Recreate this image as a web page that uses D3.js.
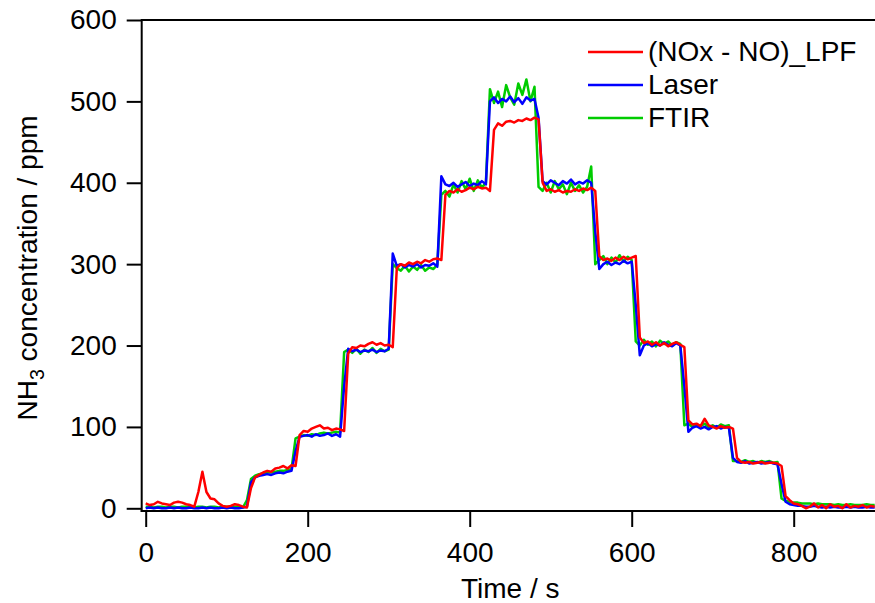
<!DOCTYPE html>
<html><head>
<meta charset="utf-8">
<title>NH3 step test</title>
<script src="https://d3js.org/d3.v7.min.js"></script>
<style>
  body { margin: 0; background: #fff; }
  svg text { font-family: "Liberation Sans", Arial, sans-serif; fill: #000; }
</style>
</head>
<body>
<svg id="chart" width="875" height="603"></svg>

<script>
// time axis, seconds (5 s sampling)
const times = [
  0,5,10,15,20,25,30,35,40,45,50,55,
  60,65,70,75,80,85,90,95,100,105,110,115,
  120,125,130,135,140,145,150,155,160,165,170,175,
  180,185,190,195,200,205,210,215,220,225,230,235,
  240,245,250,255,260,265,270,275,280,285,290,295,
  300,305,310,315,320,325,330,335,340,345,350,355,
  360,365,370,375,380,385,390,395,400,405,410,415,
  420,425,430,435,440,445,450,455,460,465,470,475,
  480,485,490,495,500,505,510,515,520,525,530,535,
  540,545,550,555,560,565,570,575,580,585,590,595,
  600,605,610,615,620,625,630,635,640,645,650,655,
  660,665,670,675,680,685,690,695,700,705,710,715,
  720,725,730,735,740,745,750,755,760,765,770,775,
  780,785,790,795,800,805,810,815,820,825,830,835,
  840,845,850,855,860,865,870,875,880,885,890,895,
  900
];

// (NOx - NO)_LPF, ppm
const noxLpf = [
  6,4,5,8,6,5,4,7,8,7,5,4,
  2,20,45,20,12,11,6,3,2,3,5,4,
  2,1,25,38,41,44,46,45,49,50,52,49,
  53,52,90,95,94,98,100,102,98,99,96,98,
  97,95,190,198,197,200,199,202,204,201,203,200,
  201,198,295,300,298,302,300,303,301,305,303,306,
  307,305,385,390,388,392,389,391,394,392,395,393,
  394,390,465,473,470,475,476,474,477,476,479,477,
  480,478,400,390,392,389,391,388,390,389,392,390,
  393,391,394,390,310,305,307,304,308,305,309,306,
  308,310,210,203,205,201,204,200,203,199,202,204,
  201,198,108,103,104,101,110,102,100,98,101,99,
  100,98,62,57,56,57,55,56,57,55,56,56,
  55,52,15,10,6,5,3,0,2,6,1,4,
  0,5,2,3,0,5,1,3,2,4,1,3,
  2
];

// Laser, ppm
const laser = [
  0,1,0,1,0,0,1,0,1,0,0,1,
  0,0,1,0,1,0,0,1,0,1,0,0,
  1,2,32,38,40,41,42,41,43,44,43,45,
  46,70,88,89,90,88,91,89,90,92,89,91,
  88,150,196,193,195,192,194,193,195,192,194,193,
  196,313,298,300,296,299,297,300,296,299,298,301,
  297,408,398,396,400,395,398,401,396,399,397,402,
  398,500,505,498,503,500,506,499,504,497,505,501,
  503,480,402,398,403,400,397,402,399,404,398,401,
  399,403,400,340,294,300,303,299,302,300,304,301,
  303,250,188,200,203,199,202,200,204,201,199,203,
  200,150,94,99,101,98,100,97,100,101,98,100,
  99,62,57,56,58,55,56,57,55,56,57,55,
  54,30,8,5,4,3,3,2,2,3,2,1,
  2,1,2,1,1,2,1,2,1,1,2,1,
  1
];

// FTIR, ppm
const ftir = [
  2,2,1,2,2,1,2,2,1,2,2,2,
  1,2,2,1,2,2,1,2,2,1,2,2,
  1,10,36,40,42,43,44,44,45,46,46,47,
  48,86,88,90,89,91,90,92,93,92,93,94,
  93,192,195,191,196,190,195,192,197,191,196,193,
  195,300,295,292,298,291,297,293,299,292,296,294,
  299,385,390,383,398,388,402,392,405,390,403,394,
  400,515,498,512,493,520,505,496,522,508,527,500,
  518,395,390,400,388,402,392,398,386,400,390,397,
  388,395,420,300,305,310,300,308,302,311,303,309,
  305,205,200,207,201,205,199,206,202,205,200,204,
  202,102,104,100,103,101,104,100,102,99,103,101,
  102,58,58,57,59,57,58,56,58,57,58,56,
  57,12,9,8,7,7,6,6,6,5,6,5,
  5,5,4,5,4,4,5,4,4,4,5,4,
  4
];

const seriesNames = ["(NOx - NO)_LPF", "Laser", "FTIR"];
const seriesColors = ["#ff0000", "#0000ff", "#00cc00"];
const xTicks = [0, 200, 400, 600, 800];
const yTicks = [0, 100, 200, 300, 400, 500, 600];

const svg = d3.select("#chart");
const fontSize = 28;

// plot box (Igor style: axes sit a few px outside the data area)
const plotLeft = 145.7, plotRight = 874.7, plotTop = 20, plotBottom = 508.3;
const axisX = 141.7, axisY = 511;

const x = d3.scaleLinear().domain([0, 900]).range([plotLeft, plotRight]);
const y = d3.scaleLinear().domain([0, 600]).range([plotBottom, plotTop]);

// frame lines
svg.append("line").attr("x1", axisX).attr("x2", 875).attr("y1", plotTop).attr("y2", plotTop)
   .attr("stroke", "#000").attr("stroke-width", 2);
svg.append("line").attr("x1", axisX).attr("x2", axisX).attr("y1", plotTop - 1).attr("y2", axisY + 1)
   .attr("stroke", "#000").attr("stroke-width", 2);
svg.append("line").attr("x1", axisX - 1).attr("x2", 875).attr("y1", axisY).attr("y2", axisY)
   .attr("stroke", "#000").attr("stroke-width", 2);

// axes
let yAxis = svg.append("g").attr("transform", "translate(" + axisX + ",0)")
  .call(d3.axisLeft(y).tickValues(yTicks).tickSize(15).tickPadding(10).tickSizeOuter(0));
let xAxis = svg.append("g").attr("transform", "translate(0," + axisY + ")")
  .call(d3.axisBottom(x).tickValues(xTicks).tickSize(16).tickPadding(15).tickSizeOuter(0));

[xAxis, yAxis].forEach(a => {
  a.attr("font-size", fontSize).attr("font-family", null);
  a.select(".domain").remove();
  a.selectAll(".tick line").attr("stroke", "#000").attr("stroke-width", 2);
  a.selectAll(".tick text").attr("fill", "#000");
});

// axis titles
svg.append("text")
   .attr("x", (plotLeft + plotRight) / 2).attr("y", 598)
   .attr("text-anchor", "middle").attr("font-size", fontSize)
   .text("Time / s");

let yTitle = svg.append("text")
   .attr("transform", "translate(37,268) rotate(-90)")
   .attr("text-anchor", "middle").attr("font-size", fontSize);
yTitle.append("tspan").text("NH");
yTitle.append("tspan").attr("font-size", fontSize * 0.7).attr("dy", 7).text("3");
yTitle.append("tspan").attr("dy", -7).text(" concentration / ppm");

// data lines: green underneath, then blue, red on top
const seriesValues = [noxLpf, laser, ftir];
const line = d3.line().x(d => x(d[0])).y(d => y(d[1]));

[2, 1, 0].forEach(i => {
  const pts = times.map((t, j) => [t, seriesValues[i][j]]);
  svg.append("path").datum(pts)
     .attr("d", line)
     .attr("fill", "none")
     .attr("stroke", seriesColors[i])
     .attr("stroke-width", 2.5)
     .attr("stroke-linejoin", "round");
});

// legend
const legend = svg.append("g");
seriesNames.forEach((name, i) => {
  const ly = 52 + i * 33;
  legend.append("line").attr("x1", 588).attr("x2", 643).attr("y1", ly).attr("y2", ly)
        .attr("stroke", seriesColors[i]).attr("stroke-width", 2.5);
  legend.append("text").attr("x", 648).attr("y", ly + 9)
        .attr("font-size", fontSize).text(name);
});
</script>
</body>
</html>
